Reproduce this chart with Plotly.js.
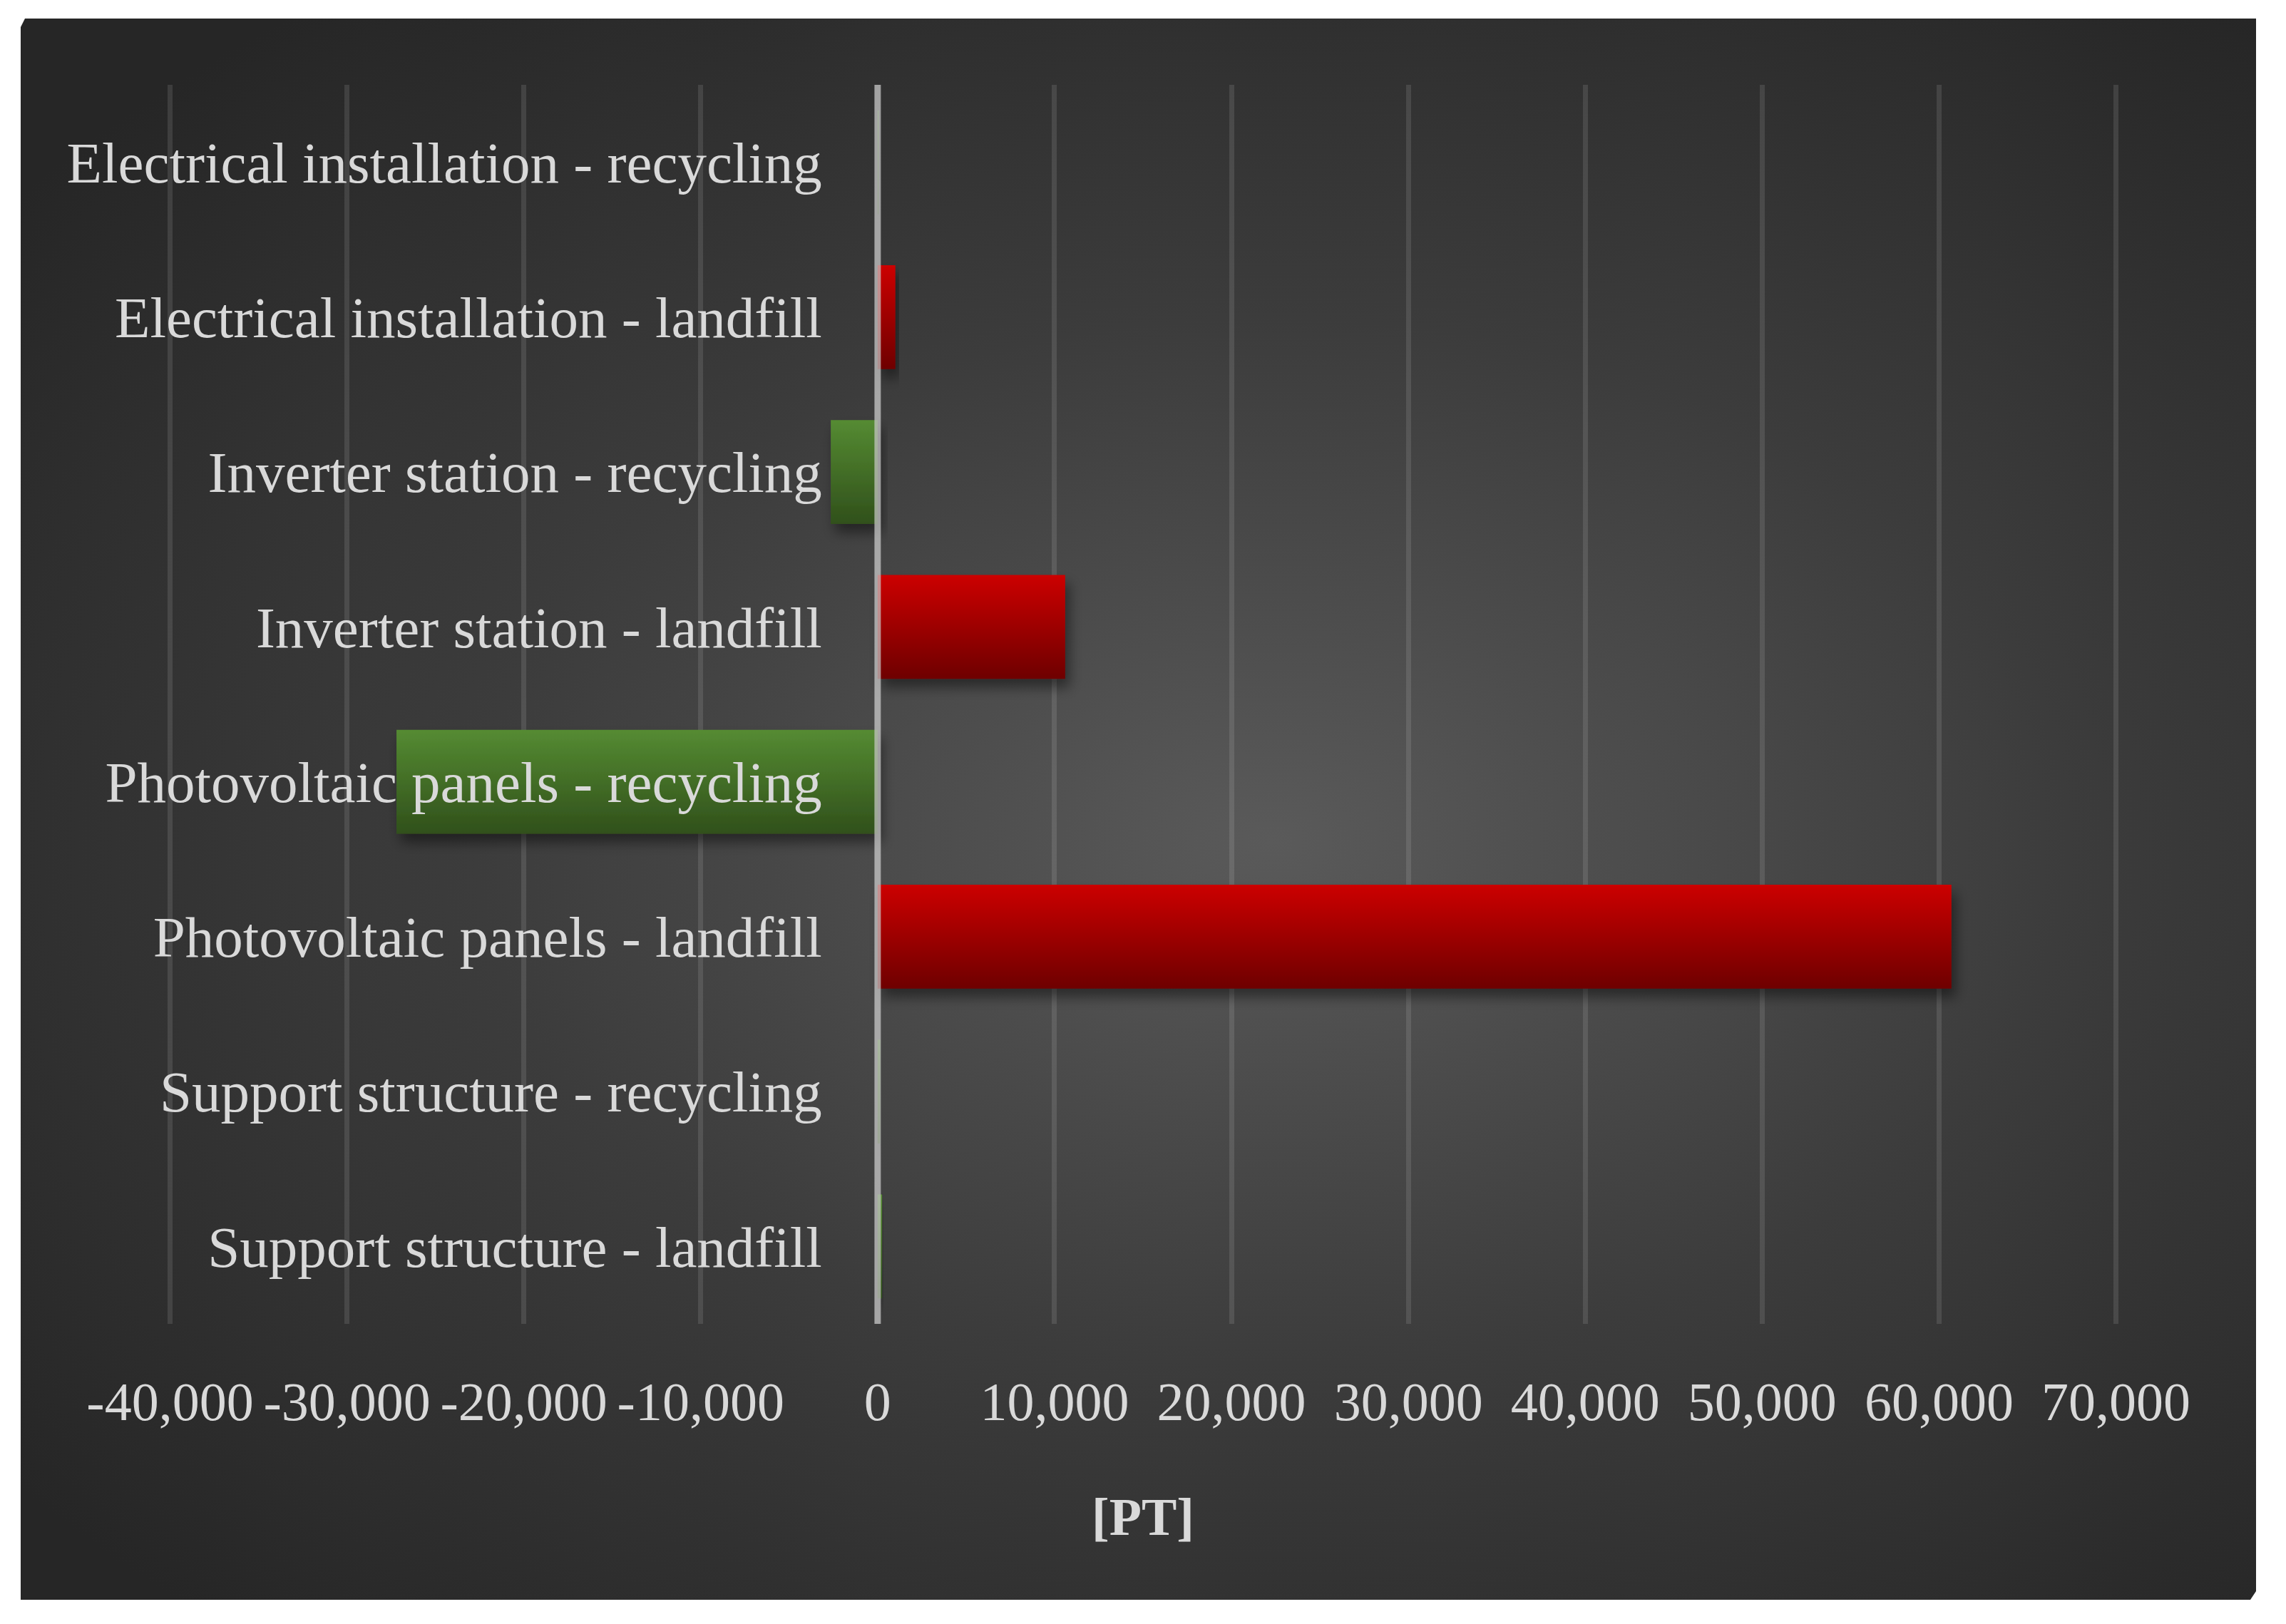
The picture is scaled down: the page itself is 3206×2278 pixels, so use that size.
<!DOCTYPE html>
<html>
<head>
<meta charset="utf-8">
<script src="https://cdn.plot.ly/plotly-3.0.1.min.js"></script>
<style>
  body { margin: 0; background: #ffffff; }
  #panel {
    position: absolute; left: 29px; top: 26px; width: 3135px; height: 2218px;
    background: radial-gradient(ellipse farthest-corner at 56% 52%, #5a5a5a 0%, #3c3c3c 45%, #262626 90%);
    clip-path: polygon(6px 0, 100% 0, 100% calc(100% - 12px), calc(100% - 8px) 100%, 0 100%, 0 12px);
  }
  #plotArea { position: absolute; left: 0; top: 0; width: 3135px; height: 2218px; }
</style>
</head>
<body>
<div id="panel"><div id="plotArea"></div></div>
<script>
// categories top -> bottom
var categories = [
  "Electrical installation - recycling",
  "Electrical installation - landfill",
  "Inverter station - recycling",
  "Inverter station - landfill",
  "Photovoltaic panels - recycling",
  "Photovoltaic panels - landfill",
  "Support structure - recycling",
  "Support structure - landfill"
];
var values = [60, 1000, -2650, 10600, -27200, 60700, 150, 250];

var xTickVals = [-40000, -30000, -20000, -10000, 0, 10000, 20000, 30000, 40000, 50000, 60000, 70000];
var xTickText = ["-40,000", "-30,000", "-20,000", "-10,000", "0", "10,000", "20,000", "30,000", "40,000", "50,000", "60,000", "70,000"];

// red = landfill, green = recycling (support structure both green in the original)
var RED = "#aa0000", GREEN = "#447029";
var barColors = [GREEN, RED, GREEN, RED, GREEN, RED, GREEN, GREEN];

var fontFam = "'Liberation Serif', 'DejaVu Serif', serif";

var trace = {
  type: "bar",
  orientation: "h",
  y: categories,
  x: values,
  width: 0.67,
  marker: { color: barColors, line: { width: 0 } },
  hoverinfo: "x+y"
};

var layout = {
  width: 3135,
  height: 2218,
  paper_bgcolor: "rgba(0,0,0,0)",
  plot_bgcolor: "rgba(0,0,0,0)",
  margin: { l: 208, r: 195, t: 93, b: 387 },
  showlegend: false,
  font: { family: fontFam, color: "#d9d9d9", size: 76 },
  xaxis: {
    // tiny padding so the gridlines at -40k and 70k are drawn
    range: [-40060, 70060],
    tickvals: xTickVals,
    ticktext: xTickText,
    showgrid: true,
    gridcolor: "rgba(255,255,255,0.11)",
    gridwidth: 7,
    zeroline: false,
    showline: false,
    ticks: "",
    ticklabelstandoff: 58,
    tickfont: { size: 76, color: "#d9d9d9" },
    automargin: false,
    title: { text: "<b>[PT]</b>", font: { size: 74, color: "#d9d9d9" }, standoff: 94 }
  },
  yaxis: {
    type: "category",
    autorange: "reversed",
    anchor: "free",
    position: 40060 / 110120,
    showgrid: false,
    zeroline: false,
    showline: false,
    ticks: "",
    ticklabelstandoff: 78,
    tickfont: { size: 81, color: "#d9d9d9" },
    automargin: false
  },
  shapes: [{
    type: "line", xref: "x", yref: "paper",
    x0: 0, x1: 0, y0: 0, y1: 1,
    layer: "above",
    line: { color: "rgba(200,200,200,0.72)", width: 9 }
  }]
};

Plotly.newPlot("plotArea", [trace], layout, { displayModeBar: false, staticPlot: true }).then(function (gd) {
  // bar gradients + drop shadow, like the original Excel styling
  var svg = gd.querySelector(".main-svg");
  var ns = "http://www.w3.org/2000/svg";
  var defs = svg.querySelector("defs") || svg.insertBefore(document.createElementNS(ns, "defs"), svg.firstChild);

  function grad(id, top, bottom) {
    var g = document.createElementNS(ns, "linearGradient");
    g.setAttribute("id", id);
    g.setAttribute("x1", "0"); g.setAttribute("y1", "0");
    g.setAttribute("x2", "0"); g.setAttribute("y2", "1");
    [[0, top], [1, bottom]].forEach(function (s) {
      var st = document.createElementNS(ns, "stop");
      st.setAttribute("offset", s[0]);
      st.setAttribute("stop-color", s[1]);
      g.appendChild(st);
    });
    defs.appendChild(g);
  }
  grad("gradRed", "#cc0000", "#6e0000");
  grad("gradGreen", "#558b32", "#30501b");

  var f = document.createElementNS(ns, "filter");
  f.setAttribute("id", "barShadow");
  f.setAttribute("x", "-20%"); f.setAttribute("y", "-30%");
  f.setAttribute("width", "140%"); f.setAttribute("height", "170%");
  var ds = document.createElementNS(ns, "feDropShadow");
  ds.setAttribute("dx", "6"); ds.setAttribute("dy", "12");
  ds.setAttribute("stdDeviation", "9");
  ds.setAttribute("flood-color", "#000");
  ds.setAttribute("flood-opacity", "0.45");
  f.appendChild(ds);
  defs.appendChild(f);

  gd.querySelectorAll(".trace.bars .point path").forEach(function (p, i) {
    var c = barColors[i];
    p.style.fill = c === RED ? "url(#gradRed)" : "url(#gradGreen)";
    p.setAttribute("filter", "url(#barShadow)");
  });
});
</script>
</body>
</html>
